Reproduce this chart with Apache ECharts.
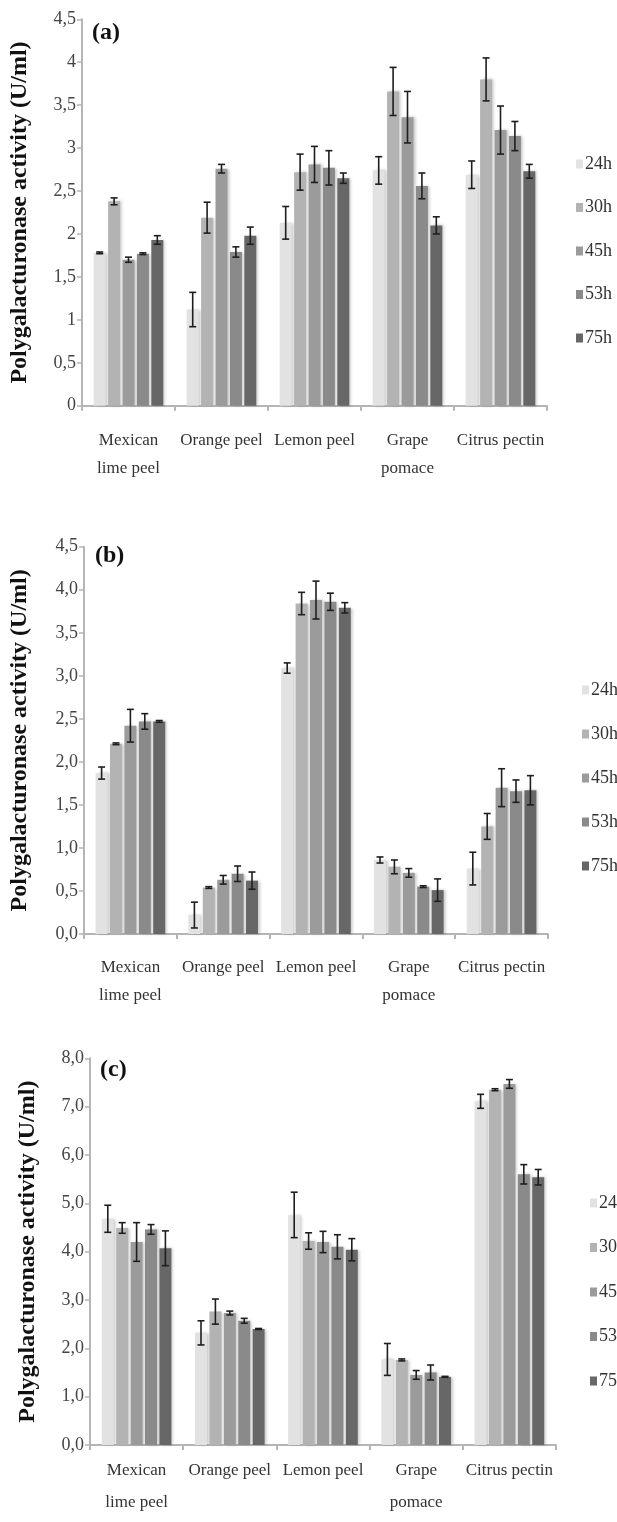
<!DOCTYPE html>
<html>
<head>
<meta charset="utf-8">
<script src="https://cdn.jsdelivr.net/npm/echarts@6/dist/echarts.min.js"></script>
<style>
html,body{margin:0;padding:0;background:#fff;}
#chart{width:617px;height:1522px;}
</style>
</head>
<body>
<div id="chart"></div>
<script>
// ---------- DATA ----------
const categories = ['Mexican\nlime peel', 'Orange peel', 'Lemon peel', 'Grape\npomace', 'Citrus pectin'];
const times = ['24h', '30h', '45h', '53h', '75h'];

// Panel (a) means and error half-widths (order = categories)
const a24 = [1.78, 1.12, 2.13, 2.74, 2.69];
const a30 = [2.38, 2.19, 2.72, 3.66, 3.80];
const a45 = [1.70, 2.76, 2.81, 3.36, 3.21];
const a53 = [1.77, 1.79, 2.77, 2.56, 3.14];
const a75 = [1.93, 1.98, 2.65, 2.10, 2.73];
const a24e = [0.01, 0.20, 0.19, 0.16, 0.16];
const a30e = [0.04, 0.18, 0.21, 0.28, 0.25];
const a45e = [0.03, 0.05, 0.21, 0.30, 0.28];
const a53e = [0.01, 0.06, 0.20, 0.15, 0.17];
const a75e = [0.05, 0.10, 0.06, 0.10, 0.08];

// Panel (b)
const b24 = [1.87, 0.22, 3.09, 0.86, 0.76];
const b30 = [2.21, 0.54, 3.84, 0.78, 1.25];
const b45 = [2.42, 0.63, 3.88, 0.71, 1.70];
const b53 = [2.47, 0.70, 3.86, 0.55, 1.66];
const b75 = [2.47, 0.62, 3.79, 0.51, 1.67];
const b24e = [0.07, 0.15, 0.06, 0.035, 0.19];
const b30e = [0.01, 0.01, 0.13, 0.08, 0.15];
const b45e = [0.19, 0.05, 0.22, 0.05, 0.22];
const b53e = [0.09, 0.09, 0.10, 0.01, 0.13];
const b75e = [0.01, 0.10, 0.06, 0.13, 0.17];

// Panel (c)
const c24 = [4.68, 2.32, 4.76, 1.77, 7.11];
const c30 = [4.49, 2.76, 4.22, 1.76, 7.35];
const c45 = [4.20, 2.73, 4.20, 1.45, 7.47];
const c53 = [4.46, 2.57, 4.10, 1.50, 5.60];
const c75 = [4.07, 2.40, 4.04, 1.41, 5.54];
const c24e = [0.28, 0.25, 0.47, 0.33, 0.145];
const c30e = [0.11, 0.26, 0.17, 0.02, 0.02];
const c45e = [0.40, 0.04, 0.22, 0.09, 0.09];
const c53e = [0.10, 0.05, 0.25, 0.155, 0.20];
const c75e = [0.36, 0.01, 0.23, 0.01, 0.16];

// Tick labels
const yTicksA = ['0', '0,5', '1', '1,5', '2', '2,5', '3', '3,5', '4', '4,5'];
const yTicksB = ['0,0', '0,5', '1,0', '1,5', '2,0', '2,5', '3,0', '3,5', '4,0', '4,5'];
const yTicksC = ['0,0', '1,0', '2,0', '3,0', '4,0', '5,0', '6,0', '7,0', '8,0'];

const panelLabels = ['(a)', '(b)', '(c)'];
const yTitle = 'Polygalacturonase activity (U/ml)';

// ---------- STYLE ----------
const colors = ['#e2e2e2', '#b3b3b3', '#9b9b9b', '#8a8a8a', '#676767'];
const serif = 'Liberation Serif';
const BAR_W = 12;
const GAP_RATIO = 0.2;

const panels = [
  { means: [a24, a30, a45, a53, a75], errs: [a24e, a30e, a45e, a53e, a75e], ticks: yTicksA, interval: 0.5,
    grid: { left: 81, right: 70, top: 19.3, bottom: 1116.3 }, nameGap: 50, labMargin: 21, labLH: 28,
    legend: { left: 571, top: 149, itemGap: 23.5 }, tag: { left: 92, top: 21 } },
  { means: [b24, b30, b45, b53, b75], errs: [b24e, b30e, b45e, b53e, b75e], ticks: yTicksB, interval: 0.5,
    grid: { left: 83, right: 69, top: 546.7, bottom: 588 }, nameGap: 52, labMargin: 20, labLH: 28,
    legend: { left: 577, top: 675, itemGap: 24 }, tag: { left: 95, top: 544 } },
  { means: [c24, c30, c45, c53, c75], errs: [c24e, c30e, c45e, c53e, c75e], ticks: yTicksC, interval: 1,
    grid: { left: 90, right: 61, top: 1058.3, bottom: 77 }, nameGap: 50, labMargin: 10, labLH: 32,
    legend: { left: 585, top: 1188, itemGap: 24.5 }, tag: { left: 100, top: 1058 } }
];

const grids = [], xAxes = [], yAxes = [], series = [], legends = [], graphics = [];
const axisGrey = '#b5b5b5';

panels.forEach((p, pi) => {
  grids.push(p.grid);
  xAxes.push({
    type: 'category', gridIndex: pi, data: categories,
    axisLine: { lineStyle: { color: axisGrey, width: 2 } },
    axisTick: { show: true, length: 5, lineStyle: { color: axisGrey, width: 2 } },
    axisLabel: { interval: 0, fontFamily: serif, fontSize: 17, color: '#333', lineHeight: p.labLH, margin: p.labMargin },
    splitLine: { show: false }
  });
  const maxV = (p.ticks.length - 1) * p.interval;
  yAxes.push({
    type: 'value', gridIndex: pi, min: 0, max: maxV, interval: p.interval,
    axisLine: { show: true, lineStyle: { color: axisGrey, width: 2 } },
    axisTick: { show: true, length: 5, lineStyle: { color: axisGrey, width: 1.5 } },
    splitLine: { show: false },
    axisLabel: {
      fontFamily: serif, fontSize: 18, color: '#444', margin: 6,
      formatter: (v) => p.ticks[Math.round(v / p.interval)]
    },
    name: yTitle, nameLocation: 'middle', nameGap: p.nameGap,
    nameTextStyle: { fontFamily: serif, fontWeight: 'bold', fontSize: 24, color: '#111' }
  });
  times.forEach((t, k) => {
    series.push({
      name: t, type: 'bar', xAxisIndex: pi, yAxisIndex: pi,
      data: p.means[k], barWidth: BAR_W, barGap: (GAP_RATIO * 100) + '%',
      itemStyle: { color: colors[k], shadowColor: 'rgba(0,0,0,0.22)', shadowBlur: 3, shadowOffsetX: 2 },
      emphasis: { disabled: true }, z: 2
    });
  });
  times.forEach((t, k) => {
    const offset = (k - 2) * BAR_W * (1 + GAP_RATIO);
    series.push({
      name: 'err-' + pi + '-' + t, type: 'custom', xAxisIndex: pi, yAxisIndex: pi, z: 5,
      data: p.means[k].map((v, i) => [i, v, p.errs[k][i]]),
      renderItem: function (params, api) {
        const ci = api.value(0), v = api.value(1), e = api.value(2);
        const top = api.coord([ci, v + e]);
        const bot = api.coord([ci, v - e]);
        const x = top[0] + offset;
        const cap = 3.5;
        const st = { stroke: '#1e1e1e', lineWidth: 1.6 };
        return { type: 'group', children: [
          { type: 'line', shape: { x1: x, y1: top[1], x2: x, y2: bot[1] }, style: st },
          { type: 'line', shape: { x1: x - cap, y1: top[1], x2: x + cap, y2: top[1] }, style: st },
          { type: 'line', shape: { x1: x - cap, y1: bot[1], x2: x + cap, y2: bot[1] }, style: st }
        ] };
      }
    });
  });
  legends.push({
    data: times, orient: 'vertical', left: p.legend.left, top: p.legend.top,
    itemGap: p.legend.itemGap, itemWidth: 7, itemHeight: 9, icon: 'rect',
    textStyle: { fontFamily: serif, fontSize: 18, color: '#333', lineHeight: 20, padding: [0, 0, 0, -3] },
    selectedMode: false
  });
  graphics.push({
    type: 'text', left: p.tag.left, top: p.tag.top,
    style: { text: panelLabels[pi], fontFamily: serif, fontWeight: 'bold', fontSize: 24, fill: '#111' }
  });
});

const chart = echarts.init(document.getElementById('chart'), null, { renderer: 'canvas' });
chart.setOption({
  animation: false,
  backgroundColor: '#fff',
  grid: grids, xAxis: xAxes, yAxis: yAxes, series: series, legend: legends, graphic: graphics
});
</script>
</body>
</html>
